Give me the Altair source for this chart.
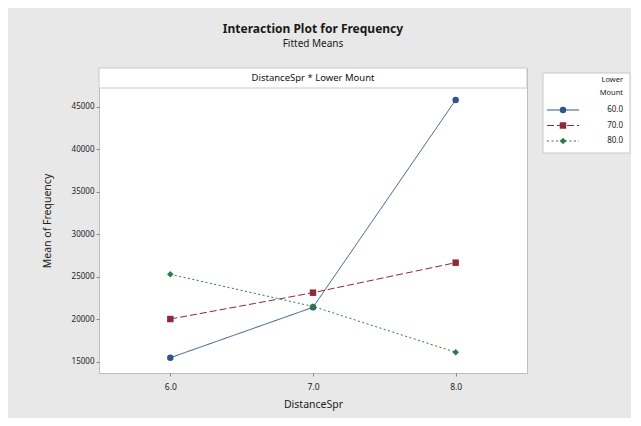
import altair as alt
import pandas as pd

# ---- data ----
x_levels = [6.0, 7.0, 8.0]
mount_levels = ["60.0", "70.0", "80.0"]
mean_60 = [15470, 21400, 45790]
mean_70 = [20020, 23120, 26650]
mean_80 = [25280, 21500, 16110]
y_ticks = [15000, 20000, 25000, 30000, 35000, 40000, 45000]

colors = ["#2F5688", "#8E2A3A", "#2C7A47"]
dashes = [[1, 0], [7, 3], [2, 2.5]]
shapes = ["circle", "square", "diamond"]

title_text = "Interaction Plot for Frequency"
subtitle_text = "Fitted Means"
header_text = "DistanceSpr * Lower Mount"
x_title = "DistanceSpr"
y_title = "Mean of Frequency"
legend_title = ["Lower", "Mount"]

rows = []
for lvl, series in zip(mount_levels, [mean_60, mean_70, mean_80]):
    for xv, yv in zip(x_levels, series):
        rows.append({"DistanceSpr": xv, "Mean": yv, "Mount": lvl})
df = pd.DataFrame(rows)
legend_df = pd.DataFrame({"Mount": mount_levels})
header_df = pd.DataFrame({"label": [header_text]})
ltitle_df = pd.DataFrame({"label": [legend_title]})

W, H = 428, 305
FONT = "Noto Sans"

color_enc = alt.Color("Mount:N", scale=alt.Scale(domain=mount_levels, range=colors), legend=None)
dash_enc = alt.StrokeDash("Mount:N", scale=alt.Scale(domain=mount_levels, range=dashes), legend=None)
shape_enc = alt.Shape("Mount:N", scale=alt.Scale(domain=mount_levels, range=shapes), legend=None)

x_enc = alt.X("DistanceSpr:Q",
              scale=alt.Scale(domain=[5.5, 8.5], nice=False, zero=False),
              axis=alt.Axis(values=x_levels, format=".1f", title=x_title,
                            labelFontSize=8.5, titleFontSize=10.5, tickSize=3,
                            labelPadding=6, titlePadding=9, domain=False,
                            grid=False, tickColor="#888888", labelColor="#222222",
                            titleFontWeight="normal", titleColor="#222222"))
y_scale = alt.Scale(domain=[13671, 49553], nice=False, zero=False)

header_rect = alt.Chart(header_df).mark_rect(fill="white", stroke="#C8C8C8", strokeWidth=1).encode(
    x=alt.value(0), x2=alt.value(W), y=alt.value(0), y2=alt.value(20))
header_lbl = alt.Chart(header_df).mark_text(font=FONT, fontSize=9.5, color="#111111").encode(
    x=alt.value(W / 2), y=alt.value(10), text="label:N")

lines = alt.Chart(df).mark_line(strokeWidth=1).encode(
    x=x_enc,
    y=alt.Y("Mean:Q", scale=y_scale,
            axis=alt.Axis(values=y_ticks, format="d", title=y_title,
                          labelFontSize=8, titleFontSize=10.5, tickSize=3,
                          labelPadding=2, titlePadding=19, domain=False, grid=False,
                          tickColor="#888888", labelColor="#222222",
                          titleFontWeight="normal", titleColor="#222222")),
    color=color_enc, strokeDash=dash_enc, detail="Mount:N")

points = alt.Chart(df).mark_point(filled=True, size=42, opacity=1).encode(
    x=alt.X("DistanceSpr:Q", scale=alt.Scale(domain=[5.5, 8.5], nice=False, zero=False)),
    y=alt.Y("Mean:Q", scale=y_scale, axis=None),
    color=color_enc, shape=shape_enc)

leg_y = alt.Y("Mount:N", scale=alt.Scale(type="point", domain=mount_levels, range=[42, 73], padding=0), axis=None)

leg_box = alt.Chart(header_df).mark_rect(fill="white", stroke="#C8C8C8", strokeWidth=1).encode(
    x=alt.value(444), x2=alt.value(531), y=alt.value(5), y2=alt.value(85))
leg_title = alt.Chart(ltitle_df).mark_text(font=FONT, fontSize=7.5, align="right", baseline="top",
                                           lineHeight=13, color="#222222").encode(
    x=alt.value(524), y=alt.value(8), text="label")
leg_rules = alt.Chart(legend_df).mark_rule(strokeWidth=1.2).encode(
    x=alt.value(448), x2=alt.value(480), y=leg_y, color=color_enc, strokeDash=dash_enc)
leg_pts = alt.Chart(legend_df).mark_point(filled=True, size=42, opacity=1).encode(
    x=alt.value(464), y=leg_y, color=color_enc, shape=shape_enc)
leg_txt = alt.Chart(legend_df).mark_text(font=FONT, fontSize=8, align="right", color="#222222").encode(
    x=alt.value(524), y=leg_y, text="Mount:N")

chart = alt.layer(
    header_rect, header_lbl, lines, points, leg_box, leg_title, leg_rules, leg_pts, leg_txt
).resolve_scale(y="independent").properties(
    width=W, height=H,
    title=alt.TitleParams(text=title_text, subtitle=subtitle_text, anchor="middle",
                          fontSize=12, subtitleFontSize=10, font=FONT, subtitleFont=FONT,
                          fontWeight="bold", color="#1a1a1a", subtitleColor="#1a1a1a",
                          offset=18, subtitlePadding=3),
    autosize=alt.AutoSizeParams(type="none"),
    padding={"left": 91, "top": 60, "right": 104, "bottom": 45},
    background="#E8E8E8",
).configure_view(stroke="#BDBDBD", fill="white").configure_axis(labelFont=FONT, titleFont=FONT)

chart.save("out.html", embed_options={"renderer": "svg", "actions": False})
